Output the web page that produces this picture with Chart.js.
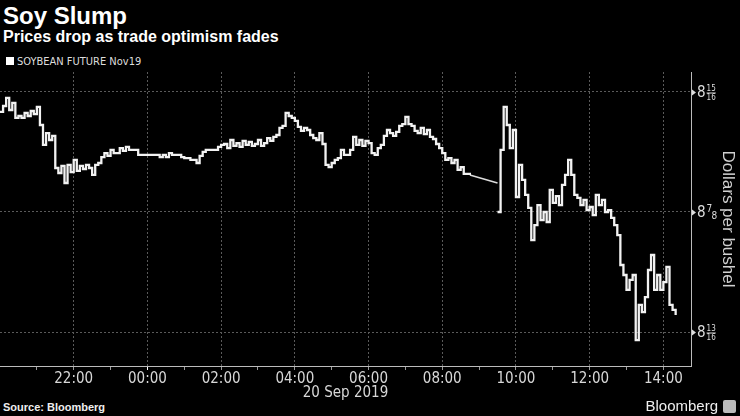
<!DOCTYPE html>
<html>
<head>
<meta charset="utf-8">
<script src="https://cdn.jsdelivr.net/npm/chart.js@4.4.1/dist/chart.umd.min.js"></script>
<style>
  html, body { margin: 0; padding: 0; background: #000; }
  body { width: 740px; height: 416px; position: relative; overflow: hidden;
         font-family: 'Liberation Sans', Arial, sans-serif; color: #fff; }
  #title { position: absolute; left: 3px; top: 2px; font-size: 24px; font-weight: bold; }
  #subtitle { position: absolute; left: 3px; top: 28px; font-size: 16px; font-weight: bold; }
  #legend { position: absolute; left: 6px; top: 55px; font-size: 11px; color: #ddd;
            font-family: 'Liberation Sans Narrow', 'DejaVu Sans Condensed', sans-serif; }
  #legend span { display: inline-block; width: 8px; height: 8px; background: #fff; margin-right: 3px; }
  #chartBox { position: absolute; left: 0; top: 66px; width: 740px; height: 334px; }
  #source { position: absolute; left: 3px; top: 401px; font-size: 11px; font-weight: bold; color: #eee; }
  #brand { position: absolute; right: 22px; top: 397px; font-size: 15px; color: #eee;
           font-family: 'Liberation Sans Narrow', 'Liberation Sans', sans-serif; }
  #logo { position: absolute; right: 4px; top: 400px; width: 13px; height: 13px; background: #bbb; border-radius: 2px; }
</style>
</head>
<body>
<div id="title">Soy Slump</div>
<div id="subtitle">Prices drop as trade optimism fades</div>
<div id="legend"><span></span>SOYBEAN FUTURE Nov19</div>
<div id="chartBox"><canvas id="chart"></canvas></div>
<div id="source">Source: Bloomberg</div>
<div id="brand">Bloomberg</div>
<div id="logo"></div>

<script>
// Soybean future Nov19, 5-minute readings ($ per bushel)
const session1Start = '20:00';   // 19 Sep evening
const session2Start = '09:30';   // 20 Sep
const stepMinutes = 5;

const session1Prices = [
  8.9271, 8.9302, 8.9344, 8.9281, 8.9318, 8.9240, 8.9250, 8.9240, 8.9266, 8.9250,
  8.9276, 8.9260, 8.9297, 8.9203, 8.9099, 8.9161, 8.9125, 8.9146, 8.8979, 8.8953,
  8.8990, 8.8901, 8.8995, 8.8958, 8.9021, 8.8964, 8.8990, 8.8974, 8.8995, 8.8979,
  8.8943, 8.8995, 8.9005, 8.9036, 8.9057, 8.9042, 8.9073, 8.9057, 8.9057, 8.9083,
  8.9068, 8.9089, 8.9073, 8.9073, 8.9073, 8.9047, 8.9047, 8.9047, 8.9047, 8.9047,
  8.9047, 8.9047, 8.9036, 8.9047, 8.9036, 8.9057, 8.9047, 8.9047, 8.9047, 8.9036,
  8.9031, 8.9031, 8.9021, 8.9021, 8.9005, 8.9042, 8.9063, 8.9073, 8.9073, 8.9073,
  8.9073, 8.9089, 8.9099, 8.9104, 8.9083, 8.9125, 8.9094, 8.9109, 8.9089, 8.9120,
  8.9099, 8.9115, 8.9094, 8.9104, 8.9125, 8.9094, 8.9109, 8.9135, 8.9120, 8.9141,
  8.9151, 8.9188, 8.9198, 8.9266, 8.9250, 8.9240, 8.9224, 8.9193, 8.9172, 8.9188,
  8.9177, 8.9151, 8.9135, 8.9125, 8.9161, 8.9104, 8.8995, 8.8984, 8.9005, 8.9021,
  8.9031, 8.9073, 8.9047, 8.9047, 8.9073, 8.9141, 8.9099, 8.9125, 8.9094, 8.9120,
  8.9109, 8.9057, 8.9047, 8.9083, 8.9099, 8.9146, 8.9177, 8.9161, 8.9146, 8.9167,
  8.9198, 8.9208, 8.9245, 8.9208, 8.9198, 8.9172, 8.9161, 8.9188, 8.9156, 8.9177,
  8.9141, 8.9130, 8.9104, 8.9083, 8.9057, 8.9021, 8.9031, 8.9005, 8.9021, 8.8969,
  8.8984, 8.8948, 8.8948, 8.8943
];

const session2Prices = [
  8.8750, 8.9073, 8.9297, 8.9203, 8.9083, 8.9177, 8.8828, 8.8995, 8.8917, 8.8839,
  8.8771, 8.8604, 8.8682, 8.8786, 8.8708, 8.8750, 8.8698, 8.8865, 8.8797, 8.8833,
  8.8786, 8.8891, 8.8943, 8.9021, 8.8943, 8.8839, 8.8823, 8.8786, 8.8813, 8.8760,
  8.8776, 8.8734, 8.8839, 8.8786, 8.8813, 8.8750, 8.8760, 8.8719, 8.8682, 8.8630,
  8.8474, 8.8422, 8.8344, 8.8396, 8.8422, 8.8083, 8.8266, 8.8229, 8.8307, 8.8448,
  8.8526, 8.8344, 8.8422, 8.8344, 8.8385, 8.8464, 8.8266, 8.8240, 8.8214
];

// no trading between sessions: straight joining line
const gapTimes = ['08:45', '09:30'];
const gapPrices = [8.8943, 8.8901];

const xTickClock = ['21:00', '22:00', '23:00', '00:00', '01:00', '02:00', '03:00', '04:00', '05:00',
                    '06:00', '07:00', '08:00', '09:00', '10:00', '11:00', '12:00', '13:00', '14:00'];
const xTickLabels = ['', '22:00', '', '00:00', '', '02:00', '', '04:00', '',
                     '06:00', '', '08:00', '', '10:00', '', '12:00', '', '14:00'];
const yTickValues = [8.8125, 8.875, 8.9375];
const yTickLabels = ['8 13/16', '8 7/8', '8 15/16'];

// hours elapsed since 20:00 on 19 Sep
function axisHours(clock) {
    const [h, m] = clock.split(':').map(Number);
    return ((h + m / 60) - 20 + 24) % 24;
}

function toPoints(startClock, prices) {
    const start = axisHours(startClock);
    return prices.map((p, i) => ({ x: start + i * stepMinutes / 60, y: p }));
}

const narrow = "'Liberation Sans Narrow', 'DejaVu Sans Condensed', sans-serif";

const fractionLabels = {
    id: 'fractionLabels',
    afterDraw(chart) {
        const ctx = chart.ctx;
        const y = chart.scales.y;
        ctx.save();
        ctx.fillStyle = '#ddd';
        ctx.strokeStyle = '#ddd';
        yTickValues.forEach((v, i) => {
            const py = Math.round(y.getPixelForValue(v)) + 0.5;
            const x0 = y.left;
            // small pointer
            ctx.beginPath();
            ctx.moveTo(x0 + 1, py - 3);
            ctx.lineTo(x0 + 5, py);
            ctx.lineTo(x0 + 1, py + 3);
            ctx.closePath();
            ctx.fill();
            const parts = yTickLabels[i].split(' ');
            const frac = parts[1].split('/');
            ctx.font = '15px ' + narrow;
            ctx.textAlign = 'left';
            ctx.textBaseline = 'middle';
            ctx.fillText(parts[0], x0 + 6, py + 1);
            const fx = x0 + 6 + ctx.measureText(parts[0]).width + 1;
            ctx.font = '8px ' + narrow;
            if (frac[1].length > 1) {
                const w = ctx.measureText(frac[1]).width;
                ctx.textAlign = 'center';
                ctx.fillText(frac[0], fx + w / 2, py - 4);
                ctx.fillText(frac[1], fx + w / 2, py + 5);
                ctx.lineWidth = 1;
                ctx.beginPath();
                ctx.moveTo(fx, py + 0.5);
                ctx.lineTo(fx + w, py + 0.5);
                ctx.stroke();
            } else {
                ctx.font = '10px ' + narrow;
                ctx.fillText(frac[0], fx, py - 3);
                ctx.fillText(frac[1], fx + 5, py + 4);
            }
        });
        ctx.restore();
    }
};

const ctx = document.getElementById('chart').getContext('2d');
new Chart(ctx, {
    type: 'line',
    data: {
        datasets: [
            {
                data: toPoints(session1Start, session1Prices),
                borderColor: '#f2f2f2',
                borderWidth: 2.3,
                pointRadius: 0,
                stepped: true
            },
            {
                data: gapTimes.map((t, i) => ({ x: axisHours(t), y: gapPrices[i] })),
                borderColor: '#dcdcdc',
                borderWidth: 1.5,
                pointRadius: 0
            },
            {
                data: toPoints(session2Start, session2Prices),
                borderColor: '#f2f2f2',
                borderWidth: 2.3,
                pointRadius: 0,
                stepped: true
            }
        ]
    },
    options: {
        responsive: true,
        maintainAspectRatio: false,
        animation: false,
        layout: { padding: { top: 6, left: 0, right: 0, bottom: 0 } },
        plugins: {
            legend: { display: false },
            tooltip: { enabled: false }
        },
        scales: {
            x: {
                type: 'linear',
                min: 0,
                max: 18.75,
                afterBuildTicks: scale => {
                    scale.ticks = xTickClock.map(c => ({ value: axisHours(c) }));
                },
                afterFit: scale => { scale.height = 34; },
                ticks: {
                    autoSkip: false,
                    maxRotation: 0,
                    padding: 0,
                    color: '#d8d8d8',
                    font: { family: narrow, size: 15 },
                    callback: (value, index) => xTickLabels[index]
                },
                grid: {
                    color: c => (c.index % 2 === 1 ? '#5a5a5a' : 'rgba(0,0,0,0)'),
                    tickColor: c => (c.index === 3 ? '#ffffff' : '#999999'),
                    tickLength: 4,
                    lineWidth: 1
                },
                border: { display: true, color: '#bbbbbb', width: 1, dash: [2, 2] },
                title: {
                    display: true,
                    text: '20 Sep 2019',
                    color: '#d8d8d8',
                    font: { family: narrow, size: 15 },
                    padding: { top: 0, bottom: -2 }
                }
            },
            y: {
                position: 'right',
                min: 8.7948,
                max: 8.9479,
                afterBuildTicks: scale => {
                    scale.ticks = yTickValues.map(v => ({ value: v }));
                },
                afterFit: scale => { scale.width = 49; },
                ticks: { display: false },
                grid: { color: '#5a5a5a', drawTicks: false, lineWidth: 1 },
                border: { display: true, color: '#bbbbbb', width: 1, dash: [2, 2] },
                title: {
                    display: true,
                    text: 'Dollars per bushel',
                    color: '#d0d0d0',
                    font: { family: "'Liberation Sans', Arial, sans-serif", size: 17 },
                    padding: { top: 2, bottom: 0 }
                }
            }
        }
    },
    plugins: [fractionLabels]
});
</script>
</body>
</html>
